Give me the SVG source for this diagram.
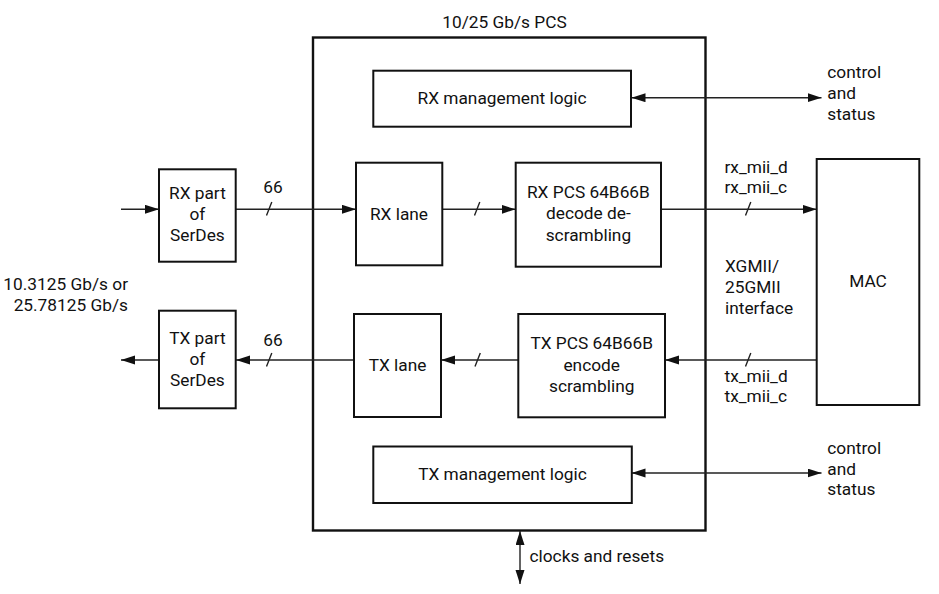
<svg xmlns="http://www.w3.org/2000/svg" width="939" height="594" viewBox="0 0 939 594">
<defs>
<style>
text{font-family:Roboto,"Liberation Sans",sans-serif;font-size:17.3px;fill:#111}
.c{text-anchor:middle}
.e{text-anchor:end}
.box{fill:#fff;stroke:#111;stroke-width:2}
.outer{fill:none;stroke:#111;stroke-width:2.4}
.ln{fill:none;stroke:#222;stroke-width:1.4}
</style>
<marker id="ah" markerUnits="userSpaceOnUse" markerWidth="15" markerHeight="10" refX="14" refY="4.5" orient="auto-start-reverse" viewBox="0 0 15 10">
<path d="M0,0 L14,4.5 L0,9 z" fill="#111"/>
</marker>
</defs>
<rect width="939" height="594" fill="#fff"/>

<g id="pcs">
<rect class="outer" x="313" y="37.5" width="392.5" height="493"/>
<text class="c" x="504.5" y="27.5">10/25 Gb/s PCS</text>
</g>

<g id="connectors">
<line class="ln" x1="121" y1="209.3" x2="159" y2="209.3" marker-end="url(#ah)"/>
<line class="ln" x1="236" y1="209.3" x2="356" y2="209.3" marker-end="url(#ah)"/>
<line class="ln" x1="442" y1="209.3" x2="515.5" y2="209.3" marker-end="url(#ah)"/>
<line class="ln" x1="661" y1="209.3" x2="816.5" y2="209.3" marker-end="url(#ah)"/>
<line class="ln" x1="816.5" y1="360" x2="665" y2="360" marker-end="url(#ah)"/>
<line class="ln" x1="518.5" y1="360" x2="441" y2="360" marker-end="url(#ah)"/>
<line class="ln" x1="354" y1="360" x2="236" y2="360" marker-end="url(#ah)"/>
<line class="ln" x1="159" y1="360" x2="121" y2="360" marker-end="url(#ah)"/>
<line class="ln" x1="631.5" y1="97.7" x2="821.5" y2="97.7" marker-start="url(#ah)" marker-end="url(#ah)"/>
<line class="ln" x1="631.5" y1="473" x2="821.5" y2="473" marker-start="url(#ah)" marker-end="url(#ah)"/>
<line class="ln" x1="520" y1="531" x2="520" y2="584" marker-start="url(#ah)" marker-end="url(#ah)"/>
<path class="ln" d="M266.5,215.5 L271.8,202 M474.5,215.5 L479.8,202 M745.5,215.5 L750.8,202 M266.5,366.5 L271.8,353 M475,366.5 L480.3,353 M745.5,366.5 L750.8,353"/>
<text class="c" x="273" y="193">66</text>
<text class="c" x="273" y="345.5">66</text>
<text x="724.5" y="172.7">rx_mii_d</text>
<text x="724.5" y="193.3">rx_mii_c</text>
<text x="724.5" y="381.7">tx_mii_d</text>
<text x="724.5" y="402.3">tx_mii_c</text>
<text x="725" y="271.7">XGMII/</text>
<text x="725" y="293.3">25GMII</text>
<text x="725" y="314.3">interface</text>
<text x="827.3" y="77.7">control</text>
<text x="827.3" y="99">and</text>
<text x="827.3" y="119.5">status</text>
<text x="827.3" y="453.5">control</text>
<text x="827.3" y="474.5">and</text>
<text x="827.3" y="495">status</text>
<text x="529.5" y="561.7">clocks and resets</text>
<text class="e" x="128" y="290">10.3125 Gb/s or</text>
<text class="e" x="128" y="310.7">25.78125 Gb/s</text>
</g>

<g id="rx-serdes">
<rect class="box" x="159" y="169.3" width="76.7" height="92.4"/>
<text class="c" x="197.4" y="199.3">RX part</text>
<text class="c" x="197.4" y="220">of</text>
<text class="c" x="197.4" y="241">SerDes</text>
</g>
<g id="tx-serdes">
<rect class="box" x="159" y="310.7" width="76.7" height="97.6"/>
<text class="c" x="197.4" y="344">TX part</text>
<text class="c" x="197.4" y="365">of</text>
<text class="c" x="197.4" y="385.5">SerDes</text>
</g>
<g id="rx-mgmt">
<rect class="box" x="373.3" y="70.7" width="257.7" height="56"/>
<text class="c" x="502" y="103.5">RX management logic</text>
</g>
<g id="tx-mgmt">
<rect class="box" x="373.3" y="446.5" width="258.5" height="56.5"/>
<text class="c" x="502.5" y="480">TX management logic</text>
</g>
<g id="rx-lane">
<rect class="box" x="356" y="162.7" width="86.3" height="102.6"/>
<text class="c" x="399" y="220">RX lane</text>
</g>
<g id="tx-lane">
<rect class="box" x="354" y="314" width="87" height="103"/>
<text class="c" x="397.5" y="371">TX lane</text>
</g>
<g id="rx-pcs">
<rect class="box" x="515.7" y="162.7" width="145.3" height="104"/>
<text class="c" x="588.4" y="198.3">RX PCS 64B66B</text>
<text class="c" x="588.4" y="219.3">decode de-</text>
<text class="c" x="588.4" y="240.5">scrambling</text>
</g>
<g id="tx-pcs">
<rect class="box" x="518.3" y="314" width="146.7" height="103.3"/>
<text class="c" x="591.7" y="349">TX PCS 64B66B</text>
<text class="c" x="591.7" y="370.5">encode</text>
<text class="c" x="591.7" y="391.5">scrambling</text>
</g>
<g id="mac">
<rect class="box" x="816.7" y="159" width="102.6" height="246"/>
<text class="c" x="868" y="286.7">MAC</text>
</g>
</svg>
